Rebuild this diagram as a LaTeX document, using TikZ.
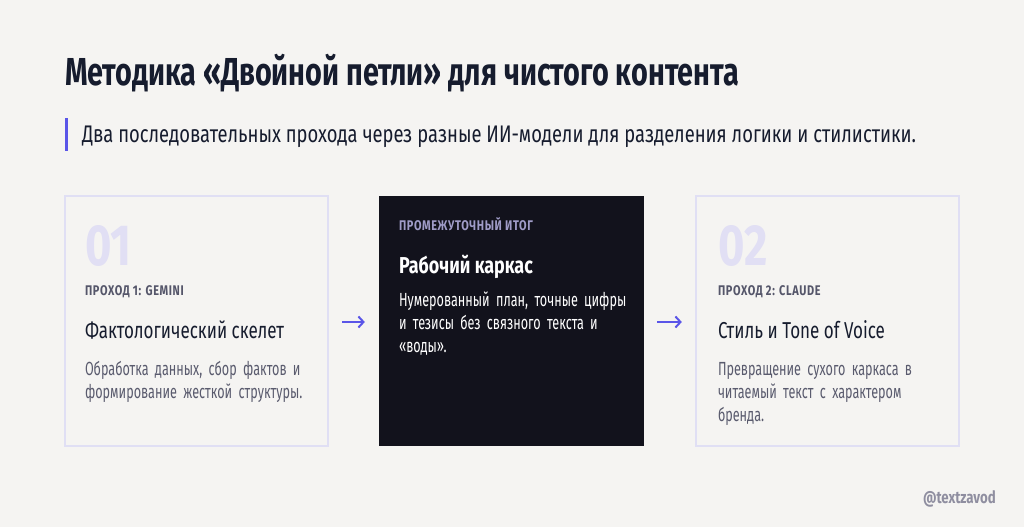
\documentclass[tikz,border=0pt]{standalone}
\usepackage{fontspec}
\setmainfont{Fira Sans}[FakeStretch=0.74]
\newfontfamily\titlefam{Fira Sans}[FakeStretch=0.738]
\newfontfamily\subfam{Fira Sans}[FakeStretch=0.766]
\newfontfamily\descfam{Fira Sans}[FakeStretch=0.665]
\newfontfamily\boldhead{Fira Sans}[FakeStretch=0.78]
\newfontfamily\lblfont{Fira Sans}[FakeStretch=0.78,LetterSpace=4.5]
\newfontfamily\numfam{Fira Sans}[FakeStretch=0.78]
\usetikzlibrary{arrows.meta}
\definecolor{bg}{HTML}{F5F4F2}
\definecolor{ink}{HTML}{161C2E}
\definecolor{accent}{HTML}{5A55E8}
\definecolor{bignum}{HTML}{E1DFF4}
\definecolor{lblgray}{HTML}{55566A}
\definecolor{descgray}{HTML}{5A5B6E}
\definecolor{darkbox}{HTML}{12121C}
\definecolor{darklbl}{HTML}{A09CC8}
\definecolor{border}{HTML}{E0DFF4}
\definecolor{wm}{HTML}{8F8EA0}
\tikzset{
  txt/.style={anchor=base west,inner sep=0pt,outer sep=0pt},
  card/.style={draw=border,line width=1.2pt,fill=bg},
  darkcard/.style={fill=darkbox,draw=none},
  titlefont/.style={txt,text=ink,font=\fontsize{39}{39}\titlefam\bfseries},
  subfont/.style={txt,text=ink,font=\fontsize{24}{24}\subfam},
  numfont/.style={txt,text=bignum,font=\fontsize{58}{58}\numfam\bfseries},
  lbl/.style={txt,text=lblgray,font=\fontsize{14}{14}\lblfont\bfseries},
  head/.style={txt,text=ink,font=\fontsize{23}{23}\selectfont},
  desc/.style={txt,text=descgray,text width=300pt,align=left,font=\fontsize{19}{23}\descfam},
  flow/.style={draw=accent,line width=2pt,-{Straight Barb[length=5pt,width=11pt]}},
}
\begin{document}
\begin{tikzpicture}[x=1pt,y=-1pt]
\fill[bg] (0,0) rectangle (1024,527);
\useasboundingbox (0,0) rectangle (1024,527);
\node[titlefont] (title) at (65,85) {Методика «Двойной петли» для чистого контента};
\fill[accent] (65,118) rectangle (67.5,151);
\node[subfont] (sub) at (82,142) {Два последовательных прохода через разные ИИ-модели для разделения логики и стилистики.};
% cards
\draw[card] (65,196) rectangle (328,446);
\node[inner sep=0pt] (c1) at (196.5,322) [minimum width=263pt,minimum height=250pt] {};
\fill[darkcard] (379,196) rectangle (644,446);
\node[inner sep=0pt] (c2) at (511.5,322) [minimum width=265pt,minimum height=250pt] {};
\draw[card] (696,196) rectangle (959,446);
\node[inner sep=0pt] (c3) at (827.5,322) [minimum width=263pt,minimum height=250pt] {};
% card 1
\node[numfont] (n1) at (85,265) {01};
\node[lbl] (l1) at (85,295) {ПРОХОД 1: GEMINI};
\node[head] (h1) at (85,338) {Фактологический скелет};
\node[desc] (d1) at (85,375) {Обработка данных, сбор фактов и\\формирование жесткой структуры.};
% card 2
\node[lbl,text=darklbl] (l2) at (399,230) {ПРОМЕЖУТОЧНЫЙ ИТОГ};
\node[txt,text=white,font=\fontsize{23}{23}\boldhead\bfseries] (h2) at (399,273) {Рабочий каркас};
\node[desc,text=white] (d2) at (399,306) {Нумерованный план, точные цифры\\и тезисы без связного текста и\\«воды».};
% card 3
\node[numfont] (n3) at (718,265) {02};
\node[lbl] (l3) at (718,295) {ПРОХОД 2: CLAUDE};
\node[head] (h3) at (718,338) {Стиль и Tone of Voice};
\node[desc] (d3) at (718,375) {Превращение сухого каркаса в\\читаемый текст с характером\\бренда.};
% arrows
\draw[flow,shorten <=14pt,shorten >=14pt] (c1) -- (c2);
\draw[flow,shorten <=13pt,shorten >=14pt] (c2) -- (c3);
\node[txt,text=wm,font=\fontsize{17}{17}\boldhead\bfseries] (wm) at (923,503) {@textzavod};
\end{tikzpicture}
\end{document}
